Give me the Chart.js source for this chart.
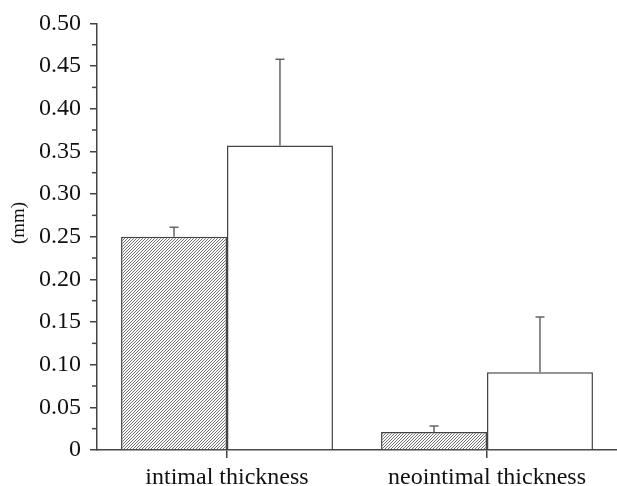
<!DOCTYPE html>
<html><head><meta charset="utf-8">
<script src="https://cdn.jsdelivr.net/npm/chart.js@4"></script>
<style>html,body{margin:0;padding:0;background:#fff;font-family:"Liberation Serif"}#w{width:617px;height:486px}</style>
</head><body><div id="w"><canvas id="c"></canvas></div>
<script>
const categories = ['intimal thickness', 'neointimal thickness'];
const hatchedValues = [0.250, 0.021];
const hatchedErrors = [0.011, 0.007];
const whiteValues = [0.357, 0.091];
const whiteErrors = [0.101, 0.065];
const yTicks = [0, 0.05, 0.10, 0.15, 0.20, 0.25, 0.30, 0.35, 0.40, 0.45, 0.50];
const yTitle = '(mm)';

function makeHatch() {
  const s = 3;
  const p = document.createElement('canvas');
  p.width = s; p.height = s;
  const g = p.getContext('2d');
  g.fillStyle = '#fff'; g.fillRect(0, 0, s, s);
  g.strokeStyle = '#6e6e6e'; g.lineWidth = 1;
  g.beginPath();
  g.moveTo(0, s); g.lineTo(s, 0);
  g.moveTo(-1, 1); g.lineTo(1, -1);
  g.moveTo(s - 1, s + 1); g.lineTo(s + 1, s - 1);
  g.stroke();
  return document.getElementById('c').getContext('2d').createPattern(p, 'repeat');
}

const errPlugin = {
  id: 'errbars',
  afterDatasetsDraw(chart) {
    const ctx = chart.ctx;
    const y = chart.scales.y;
    ctx.save();
    ctx.strokeStyle = '#666'; ctx.lineWidth = 1.5;
    chart.data.datasets.forEach((ds, di) => {
      const meta = chart.getDatasetMeta(di);
      meta.data.forEach((bar, i) => {
        const top = y.getPixelForValue(ds.data[i] + ds.errors[i]);
        const x = bar.x;
        ctx.beginPath();
        ctx.moveTo(x, bar.y); ctx.lineTo(x, top);
        ctx.moveTo(x - 4.5, top); ctx.lineTo(x + 4.5, top);
        ctx.stroke();
      });
    });
    ctx.strokeStyle = '#444'; ctx.lineWidth = 1.5;
    for (let i = 0; i < yTicks.length - 1; i++) {
      const v = (yTicks[i] + yTicks[i + 1]) / 2;
      const py = y.getPixelForValue(v);
      ctx.beginPath(); ctx.moveTo(y.right - 5, py); ctx.lineTo(y.right, py); ctx.stroke();
    }
    ctx.fillStyle = '#111';
    ctx.font = '19px "Liberation Serif", serif';
    ctx.textAlign = 'center'; ctx.textBaseline = 'middle';
    ctx.translate(19, 223); ctx.rotate(-Math.PI / 2);
    ctx.fillText(yTitle, 0, 0);
    ctx.restore();
  }
};

function build() {
  new Chart(document.getElementById('c'), {
    type: 'bar',
    data: {
      labels: categories,
      datasets: [
        { data: hatchedValues, errors: hatchedErrors, backgroundColor: makeHatch(), borderColor: '#444', borderWidth: 1.5 },
        { data: whiteValues, errors: whiteErrors, backgroundColor: '#fff', borderColor: '#444', borderWidth: 1.5 }
      ]
    },
    options: {
      responsive: true, maintainAspectRatio: false, animation: false,
      devicePixelRatio: 1,
      layout: { padding: { left: 6, right: 0, top: 21.5, bottom: 0 } },
      datasets: { bar: { categoryPercentage: 0.815, barPercentage: 1.0, borderSkipped: 'bottom' } },
      plugins: { legend: { display: false }, tooltip: { enabled: false } },
      scales: {
        x: {
          grid: { offset: false, drawOnChartArea: false, tickLength: 8, color: '#444', lineWidth: 1.5 },
          border: { color: '#444', width: 1.5 },
          ticks: { color: '#111', font: { family: '"Liberation Serif", serif', size: 24 }, padding: 5 },
          afterFit(s) { s.height = 36; }
        },
        y: {
          min: 0, max: 0.5,
          afterBuildTicks(s) { s.ticks = yTicks.map(v => ({ value: v })); },
          grid: { drawOnChartArea: false, tickLength: 7, color: '#444', lineWidth: 1.5 },
          border: { color: '#444', width: 1.5 },
          ticks: { color: '#111', font: { family: '"Liberation Serif", serif', size: 24 }, padding: 9,
            callback: v => v === 0 ? '0' : v.toFixed(2) },
          afterFit(s) { s.width = 91; }
        }
      }
    },
    plugins: [errPlugin]
  });
}
Promise.all([
  document.fonts.load('24px "Liberation Serif"'),
  document.fonts.load('19px "Liberation Serif"')
]).then(build, build);
</script></body></html>
